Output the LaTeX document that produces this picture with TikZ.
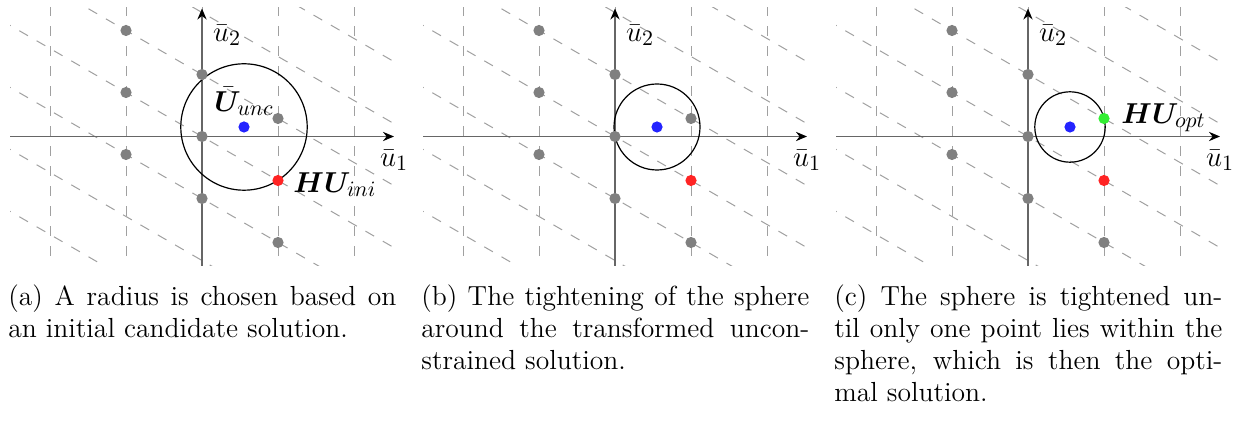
\documentclass[tikz,border=0pt]{standalone}
\usepackage{bm}
\usetikzlibrary{arrows.meta}
\definecolor{gridc}{HTML}{A0A0A0}
\definecolor{axisc}{HTML}{666666}
\definecolor{lattc}{HTML}{808080}
\definecolor{dotblue}{HTML}{2424FF}
\definecolor{dotred}{HTML}{FF2424}
\definecolor{dotgreen}{HTML}{33EE33}
\newcommand\panelbase[1]{%
  \begin{scope}
    \clip (-192,128.5) rectangle (193.5,-129.5);
    \foreach \i in {-2,...,2} \draw[gridline] ({76*\i},130) -- ({76*\i},-131);
    \foreach \k in {-3,...,3} \draw[gridline] (-200,{62*\k+115.79}) -- (200,{62*\k-115.79});
  \end{scope}
  \coordinate (#1-xs) at (-192,0);
  \coordinate (#1-xe) at (192,0);
  \coordinate (#1-ys) at (0,-129.5);
  \coordinate (#1-ye) at (0,128);
  \draw[axisline] (#1-xs) -- (#1-xe);
  \draw[axisline] (#1-ys) -- (#1-ye);
  \node[lab] (#1-l1) at (192,-24) {$\bar{u}_1$};
  \node[lab] (#1-l2) at (25,101) {$\bar{u}_2$};
}
\newcommand\panelpoints[1]{%
  \node[dot=lattc] (#1-p1) at (-76,106) {};
  \node[dot=lattc] (#1-p2) at (-76,44) {};
  \node[dot=lattc] (#1-p3) at (-76,-18) {};
  \node[dot=lattc] (#1-p4) at (0,62) {};
  \node[dot=lattc] (#1-p5) at (0,0) {};
  \node[dot=lattc] (#1-p6) at (0,-62) {};
  \node[dot=lattc] (#1-p7) at (76,-106) {};
  \node[dot=dotred] (#1-red) at (76,-44) {};
  \node[dot=dotblue] (#1-blue) at (42,9.5) {};
}
\begin{document}
\begin{tikzpicture}[x=0.5pt,y=0.5pt,
  gridline/.style={gridc, line width=0.5pt, dash pattern=on 5pt off 5pt},
  axisline/.style={axisc, line width=0.9pt, -{Stealth[black,length=5.5pt,width=4.6pt]}},
  dot/.style={circle, fill=#1, draw=none, inner sep=0pt, minimum size=5.6pt},
  sphere/.style={black, line width=0.6pt},
  lab/.style={inner sep=0pt, font=\fontsize{15}{17}\selectfont},
  captext/.style={anchor=base west, inner sep=0pt, font=\fontsize{13.8}{16}\selectfont}]
\useasboundingbox (0,-421) rectangle (1243,0);

% panel (a)
\begin{scope}[shift={(202,-136.5)}]
  \panelbase{a}
  \draw[sphere] (42,9.5) circle[radius=63.2];
  \panelpoints{a}
  \node[dot=lattc] (a-p8) at (76,18) {};
  \node[lab] (a-unc) at (42,35) {$\bar{\bm{U}}_{unc}$};
  \node[lab, anchor=west] (a-ini) at (91,-48) {$\bm{H}\bm{U}_{ini}$};
\end{scope}

% panel (b)
\begin{scope}[shift={(615,-136.5)}]
  \panelbase{b}
  \draw[sphere] (42,9.5) circle[radius=43];
  \panelpoints{b}
  \node[dot=lattc] (b-p8) at (76,18) {};
\end{scope}

% panel (c)
\begin{scope}[shift={(1028,-136.5)}]
  \panelbase{c}
  \draw[sphere] (42,9.5) circle[radius=35.2];
  \panelpoints{c}
  \node[dot=dotgreen] (c-green) at (76,18) {};
  \node[lab, anchor=west] (c-opt) at (93,19) {$\bm{H}\bm{U}_{opt}$};
\end{scope}

% captions
\node[captext] (ca1) at (8,-306) {\makebox[194pt][s]{(a) A radius is chosen based on}};
\node[captext] (ca2) at (8,-338) {an initial candidate solution.};

\node[captext] (cb1) at (421,-306) {\makebox[194pt][s]{(b) The tightening of the sphere}};
\node[captext] (cb2) at (421,-338) {\makebox[194pt][s]{around the transformed uncon-}};
\node[captext] (cb3) at (421,-370) {strained solution.};

\node[captext] (cc1) at (834,-306) {\makebox[194pt][s]{(c) The sphere is tightened un-}};
\node[captext] (cc2) at (834,-338) {\makebox[194pt][s]{til only one point lies within the}};
\node[captext] (cc3) at (834,-370) {\makebox[194pt][s]{sphere, which is then the opti-}};
\node[captext] (cc4) at (834,-402) {mal solution.};
\end{tikzpicture}
\end{document}
